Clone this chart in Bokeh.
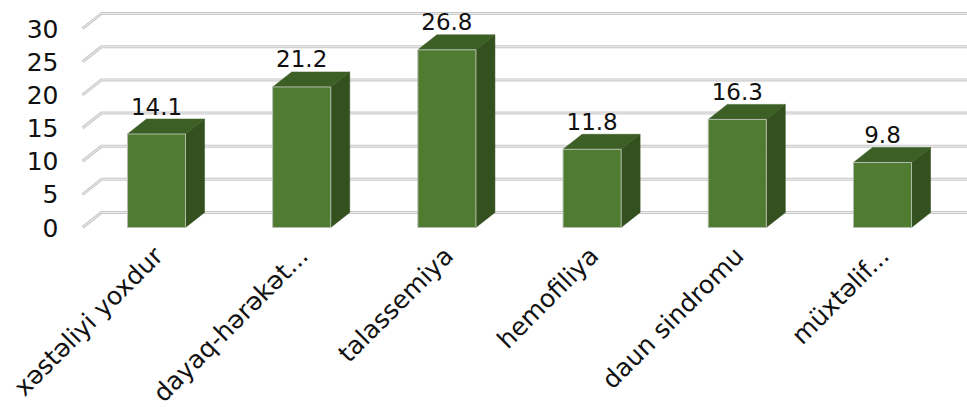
import math

from bokeh.core.properties import value
from bokeh.embed import file_html
from bokeh.models import ColumnDataSource, Range1d
from bokeh.plotting import figure
from bokeh.resources import INLINE

# --- data -------------------------------------------------------------
categories = [
    "xəstəliyi yoxdur",
    "dayaq-hərəkət...",
    "talassemiya",
    "hemofiliya",
    "daun sindromu",
    "müxtəlif...",
]
values = [14.1, 21.2, 26.8, 11.8, 16.3, 9.8]
y_ticks = [0, 5, 10, 15, 20, 25, 30]
y_tick_labels = ["0", "5", "10", "15", "20", "25", "30"]

# --- layout -----------------------------------------------------------
W, H = 967, 407
PX_PER_CAT = 145.2      # horizontal pixels between bar centres
X0_PX = 156.0           # pixel x of the first bar centre
PX_PER_UNIT = 6.63      # vertical pixels per value unit
Y0_PX = 227.0           # pixel y of the value 0 on the front plane

BAR_W = 0.40            # bar width in category units
DX = 19.0 / PX_PER_CAT  # depth of the 3-D extrusion (x)
DY = 15.0 / PX_PER_UNIT # depth of the 3-D extrusion (y)

FONT = "DejaVu Sans"

p = figure(
    width=W,
    height=H,
    x_range=Range1d(-X0_PX / PX_PER_CAT, (W - X0_PX) / PX_PER_CAT),
    y_range=Range1d(-(H - Y0_PX) / PX_PER_UNIT, Y0_PX / PX_PER_UNIT),
    x_axis_type=None,
    y_axis_type=None,
    toolbar_location=None,
    output_backend="svg",
    min_border=0,
)
p.outline_line_color = None
p.grid.visible = False
p.background_fill_color = "white"
p.border_fill_color = "white"

# --- back wall gridlines with their slanted side-wall segment ---------
wall_left = (82.0 - X0_PX) / PX_PER_CAT
right_end = (W - X0_PX) / PX_PER_CAT
grid_xs = [[wall_left, wall_left + DX, right_end] for _ in y_ticks]
grid_ys = [[t, t + DY, t + DY] for t in y_ticks]
p.multi_line(grid_xs, grid_ys, line_color="#c8c8c8", line_width=3)
p.multi_line(grid_xs, grid_ys, line_color="#efefef", line_width=1)

# --- 3-D bars ---------------------------------------------------------
xs_idx = list(range(len(categories)))
left = [i - BAR_W / 2 for i in xs_idx]
right = [i + BAR_W / 2 for i in xs_idx]

side_xs = [[r, r + DX, r + DX, r] for r in right]
side_ys = [[0, DY, v + DY, v] for v in values]
p.patches(side_xs, side_ys, fill_color="#33501e", line_color="#33501e", line_width=0.5)

top_xs = [[l, r, r + DX, l + DX] for l, r in zip(left, right)]
top_ys = [[v, v, v + DY, v + DY] for v in values]
p.patches(top_xs, top_ys, fill_color="#3b5f25", line_color="#3b5f25", line_width=0.5)

bars = ColumnDataSource(dict(left=left, right=right, top=values, bottom=[0] * len(values)))
p.quad(left="left", right="right", top="top", bottom="bottom", source=bars,
       fill_color="#4f7c31", line_color="#b4bcae", line_width=1)

# --- value labels -----------------------------------------------------
lab = ColumnDataSource(dict(
    x=xs_idx,
    y=[v + 28.0 / PX_PER_UNIT for v in values],
    text=[f"{v:.1f}" for v in values],
))
p.text(x="x", y="y", text="text", source=lab, text_align="center",
       text_baseline="alphabetic", text_font=value(FONT),
       text_font_size="23px", text_color="#111111")

# --- y tick labels ----------------------------------------------------
ytl = ColumnDataSource(dict(
    x=[(58.0 - X0_PX) / PX_PER_CAT] * len(y_ticks),
    y=y_ticks,
    text=y_tick_labels,
))
p.text(x="x", y="y", text="text", source=ytl, text_align="right",
       text_baseline="middle", text_font=value(FONT),
       text_font_size="25px", text_color="#111111")

# --- rotated category labels -----------------------------------------
cat = ColumnDataSource(dict(
    x=[i + 2.0 / PX_PER_CAT for i in xs_idx],
    y=[-(251.0 - Y0_PX) / PX_PER_UNIT] * len(categories),
    text=categories,
))
p.text(x="x", y="y", text="text", source=cat, angle=math.pi / 4,
       text_align="right", text_baseline="middle", text_font=value(FONT),
       text_font_size="25px", text_color="#111111")

open("out.html", "w").write(file_html(p, INLINE))
